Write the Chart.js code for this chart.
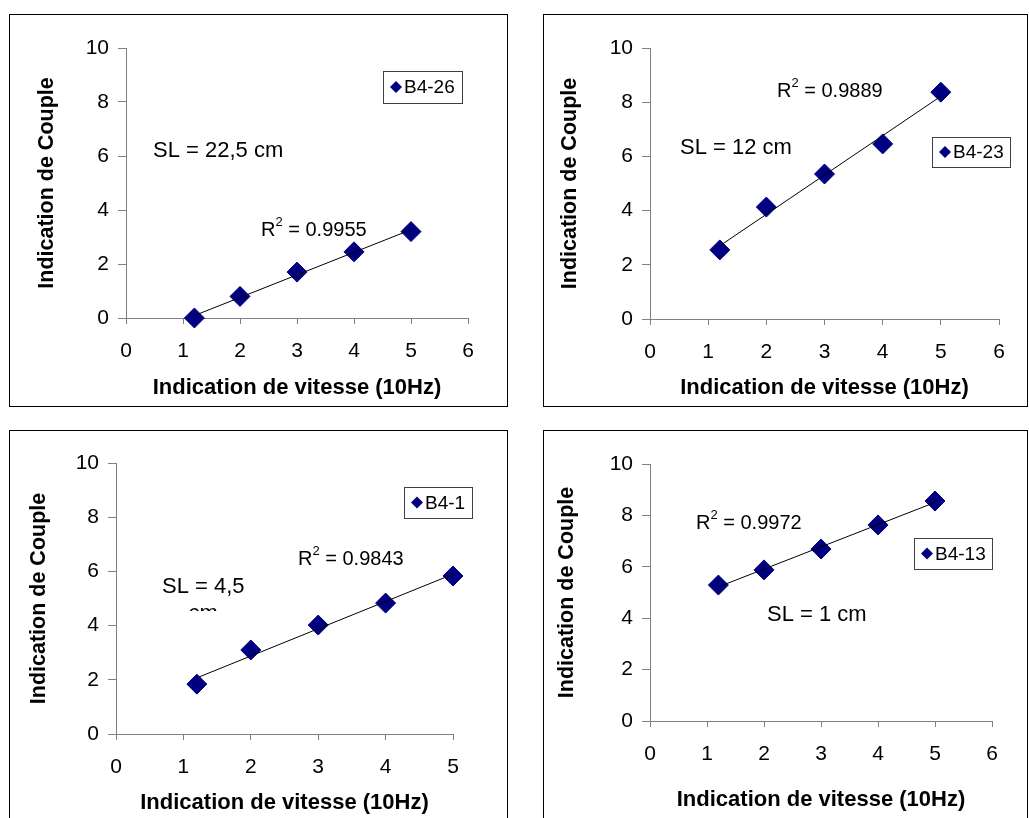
<!DOCTYPE html>
<html lang="fr">
<head>
<meta charset="UTF-8">
<title>Indication de Couple / vitesse</title>
<script src="https://cdn.jsdelivr.net/npm/chart.js"></script>
<style>
    html, body {
        margin: 0;
        padding: 0;
        width: 1029px;
        height: 818px;
        overflow: hidden;
        background: #fff;
    }
    .panel {
        position: absolute;
        box-sizing: border-box;
        border: 1px solid #000;
        background: #fff;
    }
    .panel canvas {
        position: absolute;
        left: 0;
        top: 0;
    }
</style>
</head>
<body>
<script>
    // values
    const speed = [1.2, 2, 3, 4, 5];
    const torqueB426 = [0, 0.8, 1.7, 2.45, 3.2];
    const torqueB423 = [2.55, 4.13, 5.35, 6.46, 8.37];
    const torqueB41 = [1.84, 3.1, 4.02, 4.83, 5.83];
    const torqueB413 = [5.29, 5.88, 6.69, 7.63, 8.56];

    const seriesNames = ['B4-26', 'B4-23', 'B4-1', 'B4-13'];
    const seriesValues = [torqueB426, torqueB423, torqueB41, torqueB413];
    const r2Values = ['0.9955', '0.9889', '0.9843', '0.9972'];
    const slLabels = [['SL = 22,5 cm'], ['SL = 12 cm'], ['SL = 4,5', 'cm'], ['SL = 1 cm']];
    const xMaxes = [6, 6, 5, 6];
    const xAxisTitle = 'Indication de vitesse (10Hz)';
    const yAxisTitle = 'Indication de Couple';

    // page layout of each panel (page pixels)
    const layouts = [
        { box: [9, 14, 508, 407], area: [126, 48, 468, 318], xTitleY: 388, yTitleX: 47,
          legend: [383, 71, 462, 103], sl: [153, 151], r2: [261, 230] },
        { box: [543, 14, 1028, 407], area: [650, 48, 999, 319], xTitleY: 388, yTitleX: 570,
          legend: [932, 137, 1010, 167], sl: [680, 148], r2: [777, 91] },
        { box: [9, 430, 508, 832], area: [116, 463, 453, 734], xTitleY: 803, yTitleX: 39,
          legend: [404, 487, 472, 518], sl: [162, 587], r2: [298, 559], slClip: 611 },
        { box: [543, 430, 1028, 832], area: [650, 464, 992, 721], xTitleY: 800, yTitleX: 567,
          legend: [914, 538, 992, 569], sl: [767, 615], r2: [696, 523] }
    ];

    const navy = '#000080';
    const fontFamily = '"Liberation Sans", Arial, sans-serif';
    Chart.defaults.font.family = fontFamily;

    function linearFit(xs, ys) {
        const n = xs.length;
        const mx = xs.reduce((a, b) => a + b, 0) / n;
        const my = ys.reduce((a, b) => a + b, 0) / n;
        let sxy = 0, sxx = 0;
        for (let i = 0; i < n; i++) {
            sxy += (xs[i] - mx) * (ys[i] - my);
            sxx += (xs[i] - mx) * (xs[i] - mx);
        }
        const slope = sxy / sxx;
        return x => my + slope * (x - mx);
    }

    // legend box + text annotations drawn inside each panel
    const notesPlugin = {
        id: 'notes',
        afterDraw(chart, args, opts) {
            const ctx = chart.ctx;
            const ox = opts.ox, oy = opts.oy, p = opts.layout;
            ctx.save();

            // legend
            const [l, t, r, b] = p.legend;
            ctx.strokeStyle = '#404040';
            ctx.lineWidth = 1;
            ctx.strokeRect(l - ox + 0.5, t - oy + 0.5, r - l, b - t);
            const cy = (t + b) / 2 - oy;
            const mx = l - ox + 13;
            ctx.fillStyle = navy;
            ctx.beginPath();
            ctx.moveTo(mx - 6, cy);
            ctx.lineTo(mx, cy - 6);
            ctx.lineTo(mx + 6, cy);
            ctx.lineTo(mx, cy + 6);
            ctx.closePath();
            ctx.fill();
            ctx.fillStyle = '#000';
            ctx.font = '19px ' + fontFamily;
            ctx.textBaseline = 'middle';
            ctx.textAlign = 'left';
            ctx.fillText(opts.name, mx + 8, cy + 1);

            // R² with a raised small 2
            let rx = p.r2[0] - ox;
            const ry = p.r2[1] - oy;
            ctx.font = '20px ' + fontFamily;
            ctx.fillText('R', rx, ry);
            rx += ctx.measureText('R').width;
            ctx.font = '13px ' + fontFamily;
            ctx.fillText('2', rx, ry - 8);
            rx += ctx.measureText('2').width;
            ctx.font = '20px ' + fontFamily;
            ctx.fillText(' = ' + opts.r2, rx, ry);

            // SL
            ctx.font = '22px ' + fontFamily;
            if (p.slClip) {
                ctx.beginPath();
                ctx.rect(0, 0, chart.width, p.slClip - oy);
                ctx.clip();
            }
            const lines = opts.sl;
            ctx.fillText(lines[0], p.sl[0] - ox, p.sl[1] - oy);
            if (lines.length > 1) {
                const w0 = ctx.measureText(lines[0]).width;
                ctx.textAlign = 'center';
                ctx.fillText(lines[1], p.sl[0] - ox + w0 / 2, p.sl[1] - oy + 27);
            }
            ctx.restore();
        }
    };

    layouts.forEach((p, i) => {
        const div = document.createElement('div');
        div.className = 'panel';
        div.style.left = p.box[0] + 'px';
        div.style.top = p.box[1] + 'px';
        div.style.width = (p.box[2] - p.box[0]) + 'px';
        div.style.height = (p.box[3] - p.box[1]) + 'px';
        const canvas = document.createElement('canvas');
        const ox = p.box[0] + 1, oy = p.box[1] + 1;
        const cw = p.box[2] - p.box[0] - 2, ch = p.box[3] - p.box[1] - 2;
        canvas.width = cw;
        canvas.height = ch;
        canvas.style.width = cw + 'px';
        canvas.style.height = ch + 'px';
        div.appendChild(canvas);
        document.body.appendChild(div);

        const ys = seriesValues[i];
        const fit = linearFit(speed, ys);
        const x0 = speed[0], x1 = speed[speed.length - 1];
        const xTitleLH = 22 * 1.2;
        const yTitleLH = 21.5 * 1.2;

        new Chart(canvas.getContext('2d'), {
            type: 'scatter',
            data: {
                datasets: [
                    {
                        type: 'line',
                        label: 'trend',
                        data: [{ x: x0, y: fit(x0) }, { x: x1, y: fit(x1) }],
                        borderColor: '#000',
                        borderWidth: 1,
                        pointRadius: 0,
                        fill: false,
                        clip: false
                    },
                    {
                        label: seriesNames[i],
                        data: speed.map((x, k) => ({ x: x, y: ys[k] })),
                        pointStyle: 'rectRot',
                        pointRadius: 10,
                        pointHoverRadius: 10,
                        backgroundColor: navy,
                        borderColor: navy,
                        borderWidth: 1,
                        clip: false
                    }
                ]
            },
            options: {
                responsive: false,
                animation: false,
                events: [],
                layout: {
                    padding: { left: 0, top: p.area[1] - oy, right: cw - (p.area[2] - ox), bottom: 0 }
                },
                plugins: {
                    legend: { display: false },
                    tooltip: { enabled: false },
                    notes: { ox: ox, oy: oy, layout: p, name: seriesNames[i], r2: r2Values[i], sl: slLabels[i] }
                },
                scales: {
                    x: {
                        type: 'linear',
                        min: 0,
                        max: xMaxes[i],
                        ticks: { stepSize: 1, color: '#000', font: { size: 21 }, padding: 15 },
                        grid: { drawOnChartArea: false, tickLength: 6, color: '#808080' },
                        border: { color: '#808080' },
                        title: {
                            display: true,
                            text: xAxisTitle,
                            color: '#000',
                            font: { size: 22, weight: 'bold' },
                            padding: { top: 0, bottom: (oy + ch) - p.xTitleY - xTitleLH / 2 }
                        },
                        afterFit: s => { s.height = oy + ch - p.area[3]; }
                    },
                    y: {
                        min: 0,
                        max: 10,
                        ticks: { stepSize: 2, color: '#000', font: { size: 21 }, padding: 9 },
                        grid: { drawOnChartArea: false, tickLength: 8, color: '#808080' },
                        border: { color: '#808080' },
                        title: {
                            display: true,
                            text: yAxisTitle,
                            color: '#000',
                            font: { size: 21.5, weight: 'bold' },
                            padding: { top: p.yTitleX - ox - yTitleLH / 2, bottom: 0 }
                        },
                        afterFit: s => { s.width = p.area[0] - ox; }
                    }
                }
            },
            plugins: [notesPlugin]
        });
    });
</script>
</body>
</html>
